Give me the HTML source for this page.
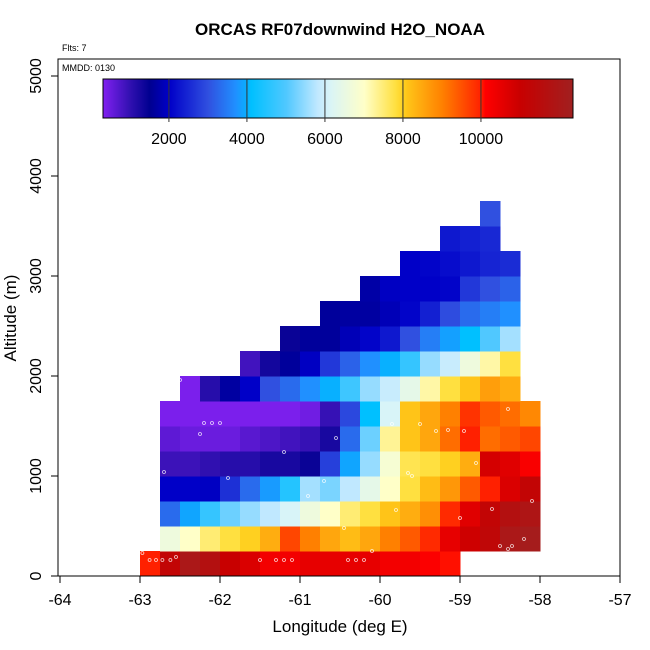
<!DOCTYPE html>
<html><head><meta charset="utf-8"><style>
body{margin:0;background:#fff;}
svg{display:block;font-family:"Liberation Sans",sans-serif;}
</style></head><body>
<svg id="chart" width="650" height="650">
<rect width="650" height="650" fill="#fff"/>
<text x="340" y="35" text-anchor="middle" font-size="17" font-weight="bold">ORCAS RF07downwind H2O_NOAA</text>
<text x="62" y="51" font-size="9">Flts: 7</text>
<text x="62" y="71" font-size="9">MMDD: 0130</text>
<g id="cells"></g>
<g id="pts"></g>
<rect x="58" y="59" width="562" height="517" fill="none" stroke="#000" stroke-width="1"/>
<g id="xaxis"></g>
<g id="yaxis"></g>
<text x="340" y="632" text-anchor="middle" font-size="17">Longitude (deg E)</text>
<text transform="translate(16,318) rotate(-90)" text-anchor="middle" font-size="17">Altitude (m)</text>
<g id="legend"></g>
</svg>
<script>
// rows from altitude 0 upward; each row: starting column index, values (H2O)
const rowStart = [0,1,1,1,1,1,1,2,5,7,9,11,13,15,17];
const rowValues = [
 [10000,11200,12000,11700,11000,10700,10300,10300,10500,10500,10500,10500,10300,10300,10150,10050],
 [6600,7000,7500,7800,8000,8400,9600,9000,8500,8200,8500,9000,9400,9900,10500,10900,11300,12000,12200],
 [3300,3900,4700,5200,5500,5800,6100,6600,7000,7500,7800,8100,8400,8800,9900,10600,11200,11700,11900],
 [2000,2000,1950,2600,3300,3800,4500,5600,5300,5800,6400,7000,7800,8200,8700,9400,10000,10700,11200],
 [900,900,1000,1100,1100,1250,1250,1400,2800,3900,5500,6800,7700,7800,8000,8400,10800,10600,10200],
 [600,500,500,500,650,750,850,950,1250,3300,5200,7300,8100,8500,9200,10000,9200,9400,9600],
 [350,350,350,350,350,350,350,450,950,2900,4100,6100,8100,8500,9000,9800,9400,9200,8900],
 [350,1100,1650,2000,3000,3300,3700,4000,4800,5500,5900,6400,7200,7800,8100,8600,8400],
 [850,1300,1600,1950,2700,3200,3700,4000,4700,5500,5900,6600,7200,7800],
 [1400,1600,1600,1850,2050,2300,3000,3500,3850,4100,5000,5600],
 [1600,1650,1650,1850,2050,2400,2950,3300,3500,3700],
 [1700,1950,2000,2000,2050,2700,3000,3200],
 [2000,2050,2150,2300,2450,2550],
 [2300,2400,2500],
 [3000]
];
const ptLon = [-62.97,-62.88,-62.8,-62.72,-62.62,-62.55,-62.5,-62.2,-62.1,-62.0,-61.5,-61.3,-61.2,-61.1,-60.9,-60.7,-60.4,-60.3,-60.2,-60.1,-59.8,-59.6,-59.5,-59.3,-59.0,-58.6,-58.5,-58.4,-58.35,-58.2,-58.1,-62.25,-61.2,-60.55,-59.65,-59.15,-58.8,-62.7,-61.9,-60.45,-59.85,-58.95,-58.4];
const ptAlt = [230,160,160,160,160,190,1960,1530,1530,1530,160,160,160,160,800,950,160,160,160,250,660,1000,1520,1450,580,670,300,270,300,370,750,1420,1240,1380,1030,1460,1130,1040,980,480,1520,1450,1670];
const tickX = [-64,-63,-62,-61,-60,-59,-58,-57];
const tickY = [0,1000,2000,3000,4000,5000];
const cbTicks = [2000,4000,6000,8000,10000];
const cmapV = [310,1000,1500,2000,3000,3700,4000,4100,5000,5800,6100,7000,7800,8000,8100,9000,10000,10100,11000,12360];
const cmapC = ["#8020F0","#3010B0","#000090","#0000C8","#3050E0","#2090FF","#08B0FF","#00C0FF","#50C8FF","#C0E8FF","#D8F4F8","#FFFFC8","#FFE040","#FFD020","#FFC418","#FF8000","#FF2000","#FF0000","#C80000","#A02020"];
const NS="http://www.w3.org/2000/svg";
const xs=v=>60+(v+64)*80, ys=v=>576-v*0.1;
const lonStart=-63, dLon=0.25, dAlt=250;
function hex(c){return [1,3,5].map(i=>parseInt(c.substr(i,2),16));}
function color(v){
 if(v<=cmapV[0])return cmapC[0];
 for(let i=1;i<cmapV.length;i++){ if(v<=cmapV[i]){const t=(v-cmapV[i-1])/(cmapV[i]-cmapV[i-1]);const a=hex(cmapC[i-1]),b=hex(cmapC[i]);return "rgb("+a.map((x,k)=>Math.round(x+(b[k]-x)*t)).join(",")+")";}}
 return cmapC[cmapC.length-1];
}
function mk(tag,attrs,parent){const e=document.createElementNS(NS,tag);for(const k in attrs)e.setAttribute(k,attrs[k]);parent.appendChild(e);return e;}
const cells=document.getElementById('cells');
rowValues.forEach((row,j)=>{row.forEach((v,k)=>{
 const lon=lonStart+(rowStart[j]+k)*dLon, alt=j*dAlt;
 const x0=xs(lon),x1=xs(lon+dLon),y0=ys(alt+dAlt),y1=ys(alt);
 const r=mk('rect',{x:x0,y:y0,width:x1-x0+0.5,height:y1-y0+0.5,fill:color(v)},cells);
 
 
});});
const pts=document.getElementById('pts');
ptLon.forEach((lo,i)=>{const c=mk('circle',{cx:xs(lo),cy:ys(ptAlt[i]),r:1.5,fill:'none',stroke:'#fff','stroke-width':0.8,opacity:0.8},pts);
 
 });
const xa=document.getElementById('xaxis');
tickX.forEach(t=>{const x=xs(t);mk('line',{x1:x,x2:x,y1:576,y2:583,stroke:'#000'},xa);
 const tx=mk('text',{x:x,y:605,'text-anchor':'middle','font-size':16},xa);tx.textContent=t;
 
 });
const ya=document.getElementById('yaxis');
tickY.forEach(t=>{const y=ys(t);mk('line',{x1:58,x2:51,y1:y,y2:y,stroke:'#000'},ya);
 const tx=mk('text',{transform:`translate(41,${y}) rotate(-90)`,'text-anchor':'middle','font-size':16},ya);tx.textContent=t;
 
 });
const lg=document.getElementById('legend');
const cbX0=103,cbX1=573,cbV0=310,cbV1=12360,cbs=v=>cbX0+(v-cbV0)/(cbV1-cbV0)*(cbX1-cbX0);
for(let x=cbX0;x<cbX1;x++){const v=cbV0+(x-cbX0)/(cbX1-cbX0)*(cbV1-cbV0);mk('rect',{x:x,y:79,width:1.2,height:39,fill:color(v)},lg);}
mk('rect',{x:cbX0,y:79,width:cbX1-cbX0,height:39,fill:'none',stroke:'#000'},lg);
cbTicks.forEach(t=>{const x=cbs(t);mk('line',{x1:x,x2:x,y1:79,y2:122,stroke:'#333'},lg);
 const tx=mk('text',{x:x,y:144,'text-anchor':'middle','font-size':16},lg);tx.textContent=t;
 
 });
</script>
</body></html>
